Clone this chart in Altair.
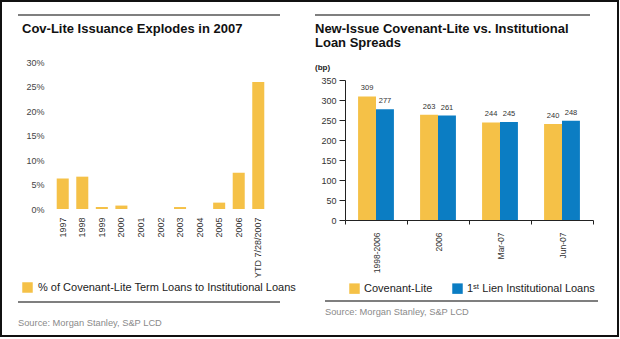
import altair as alt
import pandas as pd

# ---------------- data ----------------
years = ["1997", "1998", "1999", "2000", "2001", "2002", "2003", "2004",
         "2005", "2006", "YTD 7/28/2007"]
cov_lite_share = [6.2, 6.6, 0.4, 0.7, 0.0, 0.0, 0.4, 0.0, 1.3, 7.4, 25.9]
share_series = "% of Covenant-Lite Term Loans to Institutional Loans"
share_ticks = [0, 5, 10, 15, 20, 25, 30]

periods = ["1998-2006", "2006", "Mar-07", "Jun-07"]
cov_lite_spread = [309, 263, 244, 240]
first_lien_spread = [277, 261, 245, 248]
spread_series = ["Covenant-Lite", "1ˢᵗ Lien Institutional Loans"]
spread_ticks = [0, 50, 100, 150, 200, 250, 300, 350]

left_title = "Cov-Lite Issuance Explodes in 2007"
right_title = ["New-Issue Covenant-Lite vs. Institutional", "Loan Spreads"]
source_text = "Source: Morgan Stanley, S&P LCD"
unit_text = "(bp)"

YELLOW = "#F5C147"
BLUE = "#0B7DC3"
FONT = "Liberation Sans"

df_left = pd.DataFrame({"year": years, "share": cov_lite_share, "series": share_series})
rows = []
for p, c, f in zip(periods, cov_lite_spread, first_lien_spread):
    rows.append({"period": p, "series": spread_series[0], "spread": c})
    rows.append({"period": p, "series": spread_series[1], "spread": f})
df_right = pd.DataFrame(rows)
one = pd.DataFrame({"k": [0]})

# ---------------- left panel ----------------
left_bars = alt.Chart(df_left).mark_bar().encode(
    x=alt.X("year:N", sort=years, title=None,
            scale=alt.Scale(range=[53, 268], paddingInner=0.385, paddingOuter=0.19),
            axis=alt.Axis(orient="bottom", offset=-130, domain=False, ticks=False, grid=False,
                          labelAngle=-90, labelAlign="right", labelBaseline="middle",
                          labelPadding=8, labelFontSize=9, labelColor="#333", labelFont=FONT,
                          labelOverlap=False)),
    y=alt.Y("share:Q", title=None,
            scale=alt.Scale(domain=[0, 30], range=[209, 62], nice=False),
            axis=alt.Axis(orient="left", offset=-53, values=share_ticks,
                          labelExpr="datum.value + '%'", domain=False, ticks=False, grid=False,
                          labelPadding=9, labelFontSize=9, labelColor="#444", labelFont=FONT)),
    color=alt.Color("series:N", scale=alt.Scale(domain=[share_series], range=[YELLOW]),
                    legend=alt.Legend(orient="none", legendX=22, legendY=282, title=None,
                                      symbolType="square", symbolSize=110, symbolStrokeWidth=0,
                                      labelFontSize=11, labelFont=FONT, labelColor="#222",
                                      labelOffset=5, padding=0, labelLimit=400)),
)

# ---------------- right panel ----------------
rx = alt.X("period:N", sort=periods, title=None,
           scale=alt.Scale(range=[345, 593], paddingInner=0, paddingOuter=0),
           axis=alt.Axis(orient="bottom", offset=-119, domainColor="#222", tickColor="#222",
                         tickSize=4, tickBand="extent", grid=False,
                         labelAngle=-90, labelAlign="right", labelBaseline="middle",
                         labelPadding=8, labelFontSize=8.5, labelColor="#333", labelFont=FONT,
                         labelOverlap=False))
rxo = alt.XOffset("series:N", sort=spread_series,
                  scale=alt.Scale(paddingInner=0, paddingOuter=0.73))
ry = alt.Y("spread:Q", title=None,
           scale=alt.Scale(domain=[0, 350], range=[220, 80], nice=False),
           axis=alt.Axis(orient="left", offset=-345, values=spread_ticks, grid=False,
                         domainColor="#222", tickColor="#222", tickSize=6, labelPadding=3,
                         labelFontSize=9, labelColor="#333", labelFont=FONT))

right_bars = alt.Chart(df_right).mark_bar().encode(
    x=rx, xOffset=rxo, y=ry,
    color=alt.Color("series:N", sort=spread_series,
                    scale=alt.Scale(domain=spread_series, range=[YELLOW, BLUE]),
                    legend=alt.Legend(orient="none", legendX=349, legendY=283, title=None,
                                      direction="horizontal", columnPadding=19,
                                      symbolType="square", symbolSize=110, symbolStrokeWidth=0,
                                      labelFontSize=11, labelFont=FONT, labelColor="#222",
                                      labelOffset=4, padding=0, labelLimit=400)),
)
right_labels = alt.Chart(df_right).mark_text(
    baseline="bottom", dy=-4, fontSize=7.5, font=FONT, color="#333"
).encode(x=rx, xOffset=rxo, y=ry, text=alt.Text("spread:Q"))
right_panel = alt.layer(right_bars, right_labels)

# ---------------- decorations ----------------
frame = alt.Chart(one).mark_rect(fillOpacity=0, stroke="#111", strokeWidth=2).encode(
    x=alt.value(1), x2=alt.value(618), y=alt.value(1), y2=alt.value(336))


def hline(x1, x2, y):
    return alt.Chart(one).mark_rule(color="#555", strokeWidth=1.5).encode(
        x=alt.value(x1), x2=alt.value(x2), y=alt.value(y))


def label(text, x, y, size, weight="normal", color="#111", lh=14):
    return alt.Chart(one).mark_text(
        text=text, align="left", baseline="alphabetic", font=FONT, fontSize=size,
        fontWeight=weight, color=color, lineHeight=lh
    ).encode(x=alt.value(x), y=alt.value(y))


decor = [
    frame,
    hline(18, 280, 15), hline(315, 590, 15),
    hline(18, 280, 302), hline(325, 598, 301),
    label(left_title, 22, 33, 13, "bold"),
    label(right_title, 315, 33, 13, "bold", lh=14),
    label(unit_text, 315, 70, 8, "bold", "#222"),
    label(source_text, 18, 326, 9.3, color="#8a8a8a"),
    label(source_text, 325, 315, 9.3, color="#8a8a8a"),
]

chart = alt.layer(*decor, left_bars, right_panel).resolve_scale(
    x="independent", y="independent", color="independent"
).resolve_axis(x="independent", y="independent").resolve_legend(
    color="independent"
).properties(
    width=620, height=339, padding=0,
    autosize=alt.AutoSizeParams(type="none"),
).configure_view(strokeWidth=0)

chart.save("out.html", embed_options={"renderer": "svg", "actions": False})
